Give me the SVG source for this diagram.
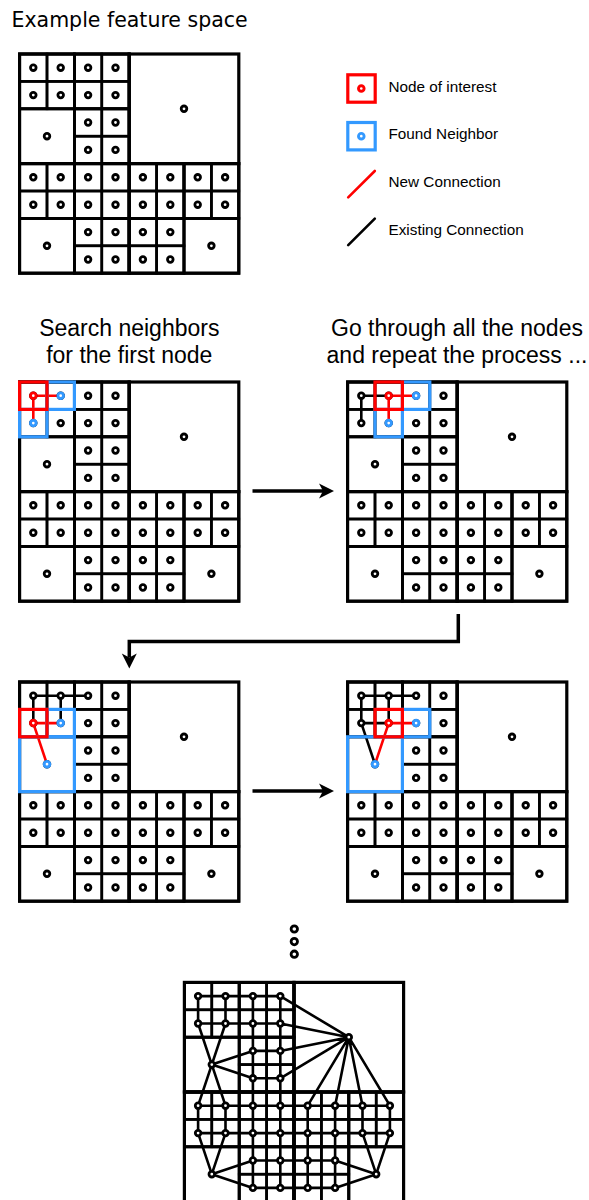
<svg xmlns="http://www.w3.org/2000/svg" xmlns:xlink="http://www.w3.org/1999/xlink" width="589" height="1200" viewBox="0 0 589 1200">
  <style>
    .cell{fill:none;stroke:#000;stroke-width:2.6}
    .blk{fill:none;stroke:#000;stroke-width:2.8}
    .quad{fill:none;stroke:#000;stroke-width:3.2}
    .dot{fill:#fff;stroke:#000;stroke-width:2.8}
    .dot.red{stroke:#ff0000;stroke-width:2.9}
    .dot.blue{stroke:#3399ff;stroke-width:2.9}
    .edge{fill:none;stroke:#000;stroke-width:2.6;stroke-linecap:round}
    .edge.new{stroke:#ff0000}
    .hl-red{fill:none;stroke:#ff0000;stroke-width:3.2}
    .hl-blue{fill:none;stroke:#3399ff;stroke-width:3.2}
    .arrow{fill:none;stroke:#000;stroke-width:3.5}
    .title{font-family:"DejaVu Sans",sans-serif;font-size:20.5px;fill:#000}
    .head{font-family:"Liberation Sans",Arial,sans-serif;font-size:23px;fill:#000;text-anchor:middle}
    .legend{font-family:"Liberation Sans",Arial,sans-serif;font-size:15.3px;fill:#000}
  </style>
  <defs>
    <marker id="arrowhead" viewBox="-16 -8 17 16" markerWidth="17" markerHeight="16" refX="-11" refY="0" orient="auto" markerUnits="userSpaceOnUse" overflow="visible">
      <path d="M0,0 L-15,-7.5 L-11,0 L-15,7.5 Z" fill="#000"/>
    </marker>
    <!-- quadtree partition of the feature space, cell size 27.4 -->
    <g id="grid">
      <!-- unit cells -->
      <rect class="cell" x="0" y="0" width="27.4" height="27.4"/>
      <rect class="cell" x="27.4" y="0" width="27.4" height="27.4"/>
      <rect class="cell" x="54.8" y="0" width="27.4" height="27.4"/>
      <rect class="cell" x="82.2" y="0" width="27.4" height="27.4"/>
      <rect class="cell" x="0" y="27.4" width="27.4" height="27.4"/>
      <rect class="cell" x="27.4" y="27.4" width="27.4" height="27.4"/>
      <rect class="cell" x="54.8" y="27.4" width="27.4" height="27.4"/>
      <rect class="cell" x="82.2" y="27.4" width="27.4" height="27.4"/>
      <rect class="cell" x="54.8" y="54.8" width="27.4" height="27.4"/>
      <rect class="cell" x="82.2" y="54.8" width="27.4" height="27.4"/>
      <rect class="cell" x="54.8" y="82.2" width="27.4" height="27.4"/>
      <rect class="cell" x="82.2" y="82.2" width="27.4" height="27.4"/>
      <rect class="cell" x="0" y="109.6" width="27.4" height="27.4"/>
      <rect class="cell" x="27.4" y="109.6" width="27.4" height="27.4"/>
      <rect class="cell" x="54.8" y="109.6" width="27.4" height="27.4"/>
      <rect class="cell" x="82.2" y="109.6" width="27.4" height="27.4"/>
      <rect class="cell" x="109.6" y="109.6" width="27.4" height="27.4"/>
      <rect class="cell" x="137" y="109.6" width="27.4" height="27.4"/>
      <rect class="cell" x="164.4" y="109.6" width="27.4" height="27.4"/>
      <rect class="cell" x="191.8" y="109.6" width="27.4" height="27.4"/>
      <rect class="cell" x="0" y="137" width="27.4" height="27.4"/>
      <rect class="cell" x="27.4" y="137" width="27.4" height="27.4"/>
      <rect class="cell" x="54.8" y="137" width="27.4" height="27.4"/>
      <rect class="cell" x="82.2" y="137" width="27.4" height="27.4"/>
      <rect class="cell" x="109.6" y="137" width="27.4" height="27.4"/>
      <rect class="cell" x="137" y="137" width="27.4" height="27.4"/>
      <rect class="cell" x="164.4" y="137" width="27.4" height="27.4"/>
      <rect class="cell" x="191.8" y="137" width="27.4" height="27.4"/>
      <rect class="cell" x="54.8" y="164.4" width="27.4" height="27.4"/>
      <rect class="cell" x="82.2" y="164.4" width="27.4" height="27.4"/>
      <rect class="cell" x="109.6" y="164.4" width="27.4" height="27.4"/>
      <rect class="cell" x="137" y="164.4" width="27.4" height="27.4"/>
      <rect class="cell" x="54.8" y="191.8" width="27.4" height="27.4"/>
      <rect class="cell" x="82.2" y="191.8" width="27.4" height="27.4"/>
      <rect class="cell" x="109.6" y="191.8" width="27.4" height="27.4"/>
      <rect class="cell" x="137" y="191.8" width="27.4" height="27.4"/>
      <!-- 2x2 blocks -->
      <rect class="blk" x="0" y="0" width="54.8" height="54.8"/>
      <rect class="blk" x="54.8" y="0" width="54.8" height="54.8"/>
      <rect class="blk" x="0" y="54.8" width="54.8" height="54.8"/>
      <rect class="blk" x="54.8" y="54.8" width="54.8" height="54.8"/>
      <rect class="blk" x="0" y="109.6" width="54.8" height="54.8"/>
      <rect class="blk" x="54.8" y="109.6" width="54.8" height="54.8"/>
      <rect class="blk" x="109.6" y="109.6" width="54.8" height="54.8"/>
      <rect class="blk" x="164.4" y="109.6" width="54.8" height="54.8"/>
      <rect class="blk" x="0" y="164.4" width="54.8" height="54.8"/>
      <rect class="blk" x="54.8" y="164.4" width="54.8" height="54.8"/>
      <rect class="blk" x="109.6" y="164.4" width="54.8" height="54.8"/>
      <rect class="blk" x="164.4" y="164.4" width="54.8" height="54.8"/>
      <!-- quadrants -->
      <rect class="quad" x="0" y="0" width="109.6" height="109.6"/>
      <rect class="quad" x="109.6" y="0" width="109.6" height="109.6"/>
      <rect class="quad" x="0" y="109.6" width="109.6" height="109.6"/>
      <rect class="quad" x="109.6" y="109.6" width="109.6" height="109.6"/>
    </g>
    <!-- one sample point per cell -->
    <g id="dots">
      <circle class="dot" cx="13.7" cy="13.7" r="2.8"/>
      <circle class="dot" cx="41.1" cy="13.7" r="2.8"/>
      <circle class="dot" cx="68.5" cy="13.7" r="2.8"/>
      <circle class="dot" cx="95.9" cy="13.7" r="2.8"/>
      <circle class="dot" cx="13.7" cy="41.1" r="2.8"/>
      <circle class="dot" cx="41.1" cy="41.1" r="2.8"/>
      <circle class="dot" cx="68.5" cy="41.1" r="2.8"/>
      <circle class="dot" cx="95.9" cy="41.1" r="2.8"/>
      <circle class="dot" cx="68.5" cy="68.5" r="2.8"/>
      <circle class="dot" cx="95.9" cy="68.5" r="2.8"/>
      <circle class="dot" cx="68.5" cy="95.9" r="2.8"/>
      <circle class="dot" cx="95.9" cy="95.9" r="2.8"/>
      <circle class="dot" cx="13.7" cy="123.3" r="2.8"/>
      <circle class="dot" cx="41.1" cy="123.3" r="2.8"/>
      <circle class="dot" cx="68.5" cy="123.3" r="2.8"/>
      <circle class="dot" cx="95.9" cy="123.3" r="2.8"/>
      <circle class="dot" cx="123.3" cy="123.3" r="2.8"/>
      <circle class="dot" cx="150.7" cy="123.3" r="2.8"/>
      <circle class="dot" cx="178.1" cy="123.3" r="2.8"/>
      <circle class="dot" cx="205.5" cy="123.3" r="2.8"/>
      <circle class="dot" cx="13.7" cy="150.7" r="2.8"/>
      <circle class="dot" cx="41.1" cy="150.7" r="2.8"/>
      <circle class="dot" cx="68.5" cy="150.7" r="2.8"/>
      <circle class="dot" cx="95.9" cy="150.7" r="2.8"/>
      <circle class="dot" cx="123.3" cy="150.7" r="2.8"/>
      <circle class="dot" cx="150.7" cy="150.7" r="2.8"/>
      <circle class="dot" cx="178.1" cy="150.7" r="2.8"/>
      <circle class="dot" cx="205.5" cy="150.7" r="2.8"/>
      <circle class="dot" cx="68.5" cy="178.1" r="2.8"/>
      <circle class="dot" cx="95.9" cy="178.1" r="2.8"/>
      <circle class="dot" cx="123.3" cy="178.1" r="2.8"/>
      <circle class="dot" cx="150.7" cy="178.1" r="2.8"/>
      <circle class="dot" cx="68.5" cy="205.5" r="2.8"/>
      <circle class="dot" cx="95.9" cy="205.5" r="2.8"/>
      <circle class="dot" cx="123.3" cy="205.5" r="2.8"/>
      <circle class="dot" cx="150.7" cy="205.5" r="2.8"/>
      <circle class="dot" cx="27.4" cy="82.2" r="2.8"/>
      <circle class="dot" cx="164.4" cy="54.8" r="2.8"/>
      <circle class="dot" cx="27.4" cy="191.8" r="2.8"/>
      <circle class="dot" cx="191.8" cy="191.8" r="2.8"/>
    </g>
  </defs>

  <text class="title" x="11.5" y="27.3">Example feature space</text>

  <!-- overview of the feature space -->
  <g id="feature-space" transform="translate(19.6,54)">
    <use xlink:href="#grid"/>
    <use xlink:href="#dots"/>
  </g>

  <!-- legend -->
  <g id="legend">
    <g id="legend-interest">
      <rect class="hl-red" x="347.8" y="74.8" width="27.4" height="27.4"/>
      <circle class="dot red" cx="361.3" cy="88.5" r="2.8"/>
      <text class="legend" x="388.5" y="91.7">Node of interest</text>
    </g>
    <g id="legend-neighbor">
      <rect class="hl-blue" x="347.8" y="122.5" width="27.4" height="27.4"/>
      <circle class="dot blue" cx="361.3" cy="136.2" r="2.8"/>
      <text class="legend" x="388.5" y="139.4">Found Neighbor</text>
    </g>
    <g id="legend-new">
      <line class="edge new" x1="348.2" y1="197.4" x2="374.8" y2="171" stroke-linecap="butt"/>
      <text class="legend" x="388.5" y="187.1">New Connection</text>
    </g>
    <g id="legend-existing">
      <line class="edge" x1="348.2" y1="245.1" x2="374.8" y2="218.7" stroke-linecap="butt"/>
      <text class="legend" x="388.5" y="234.8">Existing Connection</text>
    </g>
  </g>

  <text class="head" x="129.3" y="336">Search neighbors</text>
  <text class="head" x="129.3" y="363">for the first node</text>
  <text class="head" x="457" y="336">Go through all the nodes</text>
  <text class="head" x="457" y="363">and repeat the process ...</text>

  <!-- step 1: first node -->
  <g id="step-1" transform="translate(19.6,382)">
    <use xlink:href="#grid"/>
    <path class="edge new" d="M13.7,13.7 H41.1 M13.7,13.7 V41.1"/>
    <rect class="hl-blue" x="27.4" y="0" width="27.4" height="27.4"/>
    <rect class="hl-blue" x="0" y="27.4" width="27.4" height="27.4"/>
    <rect class="hl-red" x="0" y="0" width="27.4" height="27.4"/>
    <use xlink:href="#dots"/>
    <circle class="dot red" cx="13.7" cy="13.7" r="2.8"/>
    <circle class="dot blue" cx="41.1" cy="13.7" r="2.8"/>
    <circle class="dot blue" cx="13.7" cy="41.1" r="2.8"/>
  </g>

  <!-- step 2: second node -->
  <g id="step-2" transform="translate(347.6,382)">
    <use xlink:href="#grid"/>
    <path class="edge" d="M13.7,13.7 H41.1 M13.7,13.7 V41.1"/>
    <path class="edge new" d="M41.1,13.7 H68.5 M41.1,13.7 V41.1"/>
    <rect class="hl-blue" x="54.8" y="0" width="27.4" height="27.4"/>
    <rect class="hl-blue" x="27.4" y="27.4" width="27.4" height="27.4"/>
    <rect class="hl-red" x="27.4" y="0" width="27.4" height="27.4"/>
    <use xlink:href="#dots"/>
    <circle class="dot red" cx="41.1" cy="13.7" r="2.8"/>
    <circle class="dot blue" cx="68.5" cy="13.7" r="2.8"/>
    <circle class="dot blue" cx="41.1" cy="41.1" r="2.8"/>
  </g>

  <!-- step 3 -->
  <g id="step-3" transform="translate(19.6,682)">
    <use xlink:href="#grid"/>
    <path class="edge" d="M13.7,13.7 H68.5 M13.7,13.7 V41.1 M41.1,13.7 V41.1"/>
    <path class="edge new" d="M13.7,41.1 H41.1 M13.7,41.1 L27.4,82.2"/>
    <rect class="hl-blue" x="27.4" y="27.4" width="27.4" height="27.4"/>
    <rect class="hl-blue" x="0" y="54.8" width="54.8" height="54.8"/>
    <rect class="hl-red" x="0" y="27.4" width="27.4" height="27.4"/>
    <use xlink:href="#dots"/>
    <circle class="dot red" cx="13.7" cy="41.1" r="2.8"/>
    <circle class="dot blue" cx="41.1" cy="41.1" r="2.8"/>
    <circle class="dot blue" cx="27.4" cy="82.2" r="2.8"/>
  </g>

  <!-- step 4 -->
  <g id="step-4" transform="translate(347.6,682)">
    <use xlink:href="#grid"/>
    <path class="edge" d="M13.7,13.7 H68.5 M13.7,13.7 V41.1 M41.1,13.7 V41.1 M13.7,41.1 H41.1 M13.7,41.1 L27.4,82.2"/>
    <path class="edge new" d="M41.1,41.1 H68.5 M41.1,41.1 L27.4,82.2"/>
    <rect class="hl-blue" x="54.8" y="27.4" width="27.4" height="27.4"/>
    <rect class="hl-blue" x="0" y="54.8" width="54.8" height="54.8"/>
    <rect class="hl-red" x="27.4" y="27.4" width="27.4" height="27.4"/>
    <use xlink:href="#dots"/>
    <circle class="dot red" cx="41.1" cy="41.1" r="2.8"/>
    <circle class="dot blue" cx="68.5" cy="41.1" r="2.8"/>
    <circle class="dot blue" cx="27.4" cy="82.2" r="2.8"/>
  </g>

  <!-- ellipsis between the steps and the finished graph -->
  <g id="ellipsis">
    <circle class="dot" cx="294.3" cy="929" r="3.2" stroke-width="2.8"/>
    <circle class="dot" cx="294.3" cy="941.6" r="3.2" stroke-width="2.8"/>
    <circle class="dot" cx="294.3" cy="954.2" r="3.2" stroke-width="2.8"/>
  </g>

  <!-- finished neighbour graph -->
  <g id="final-graph" transform="translate(184.4,982.4)">
    <use xlink:href="#grid"/>
    <path class="edge" d="
      M13.7,13.7 H95.9 M13.7,41.1 H95.9 M68.5,68.5 H95.9 M68.5,95.9 H95.9
      M13.7,123.3 H205.5 M13.7,150.7 H205.5 M68.5,178.1 H150.7 M68.5,205.5 H150.7
      M13.7,13.7 V41.1 M41.1,13.7 V41.1 M13.7,123.3 V150.7 M41.1,123.3 V150.7
      M68.5,13.7 V205.5 M95.9,13.7 V205.5 M123.3,123.3 V205.5 M150.7,123.3 V205.5
      M178.1,123.3 V150.7 M205.5,123.3 V150.7
      M27.4,82.2 L13.7,41.1 M27.4,82.2 L41.1,41.1 M27.4,82.2 L13.7,123.3 M27.4,82.2 L41.1,123.3
      M27.4,82.2 L68.5,68.5 M27.4,82.2 L68.5,95.9
      M164.4,54.8 L95.9,13.7 M164.4,54.8 L95.9,41.1 M164.4,54.8 L95.9,68.5 M164.4,54.8 L95.9,95.9
      M164.4,54.8 L123.3,123.3 M164.4,54.8 L150.7,123.3 M164.4,54.8 L178.1,123.3 M164.4,54.8 L205.5,123.3
      M27.4,191.8 L13.7,150.7 M27.4,191.8 L41.1,150.7 M27.4,191.8 L68.5,178.1 M27.4,191.8 L68.5,205.5
      M191.8,191.8 L178.1,150.7 M191.8,191.8 L205.5,150.7 M191.8,191.8 L150.7,178.1 M191.8,191.8 L150.7,205.5"/>
    <use xlink:href="#dots"/>
  </g>

  <!-- flow between the steps -->
  <g id="connectors">
    <path class="arrow" d="M252.5,491 H323" marker-end="url(#arrowhead)"/>
    <path class="arrow" d="M458.3,614 V641.5 H129.3 V657.5" marker-end="url(#arrowhead)"/>
    <path class="arrow" d="M252.5,791 H323" marker-end="url(#arrowhead)"/>
  </g>
</svg>
